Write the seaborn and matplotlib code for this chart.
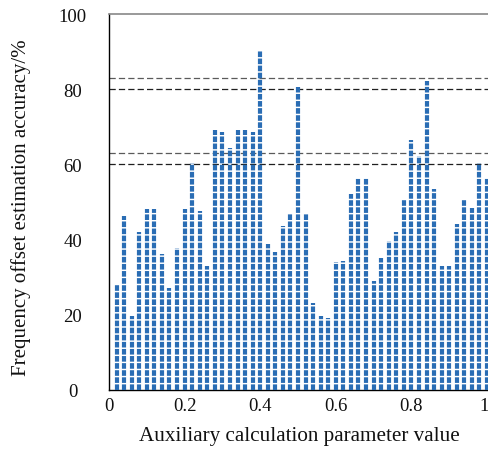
import matplotlib
matplotlib.use("Agg")
import matplotlib.pyplot as plt
import matplotlib.transforms as mtransforms
import numpy as np
import pandas as pd
import seaborn as sns

# Auxiliary parameter values (0.02 step) and the resulting estimation accuracy (%)
param_values = [0.02, 0.04, 0.06, 0.08, 0.10, 0.12, 0.14, 0.16, 0.18, 0.20,
                0.22, 0.24, 0.26, 0.28, 0.30, 0.32, 0.34, 0.36, 0.38, 0.40,
                0.42, 0.44, 0.46, 0.48, 0.50, 0.52, 0.54, 0.56, 0.58, 0.60,
                0.62, 0.64, 0.66, 0.68, 0.70, 0.72, 0.74, 0.76, 0.78, 0.80,
                0.82, 0.84, 0.86, 0.88, 0.90, 0.92, 0.94, 0.96, 0.98, 1.00]
accuracy = [28.2, 46.2, 19.8, 41.9, 48.1, 48.1, 36.1, 27.1, 37.8, 48.1,
            60.3, 47.6, 32.9, 69.2, 68.5, 64.3, 69.2, 69.2, 68.5, 90.2,
            38.7, 36.6, 43.7, 47.1, 80.5, 47.1, 23.1, 19.8, 19.2, 34.0,
            34.2, 52.0, 56.3, 56.3, 29.1, 35.2, 39.7, 42.1, 50.4, 66.5,
            62.3, 82.3, 53.5, 33.1, 33.1, 44.1, 50.4, 48.3, 60.4, 56.3]

# Reference accuracy levels
ref_levels_dark = [60, 80]
ref_levels_light = [63, 83]

x_ticks = [0, 0.2, 0.4, 0.6, 0.8, 1.0]
x_tick_labels = ["0", "0.2", "0.4", "0.6", "0.8", "1"]
y_ticks = [0, 20, 40, 60, 80, 100]
y_tick_labels = ["0", "20", "40", "60", "80", "100"]

df = pd.DataFrame({"param": param_values, "accuracy": accuracy})

sns.set_theme(style="white")
plt.rcParams["font.family"] = ["Liberation Serif", "DejaVu Serif"]

W, H = 489, 452
fig = plt.figure(figsize=(W / 100, H / 100), dpi=100)
ax = fig.add_axes([109 / W, (H - 391) / H, (W - 109) / W, (391 - 15) / H])

bar_color = "#2a6db4"
ax.vlines(df["param"], 0, df["accuracy"], colors=bar_color, linewidth=3.0,
          linestyles=[(0, (1.35, 0.35))], zorder=3)

for lv in ref_levels_dark:
    ax.axhline(lv, color="#1f1f1f", linewidth=0.9, linestyle=(0, (5, 2.5)), zorder=2)
for lv in ref_levels_light:
    ax.axhline(lv, color="#5a5a5a", linewidth=0.9, linestyle=(0, (5, 2.5)), zorder=2)

ax.set_xlim(0, 380 / 378)
ax.set_ylim(0, 100)

ax.set_xticks(x_ticks)
ax.set_xticklabels(x_tick_labels)
ax.set_yticks(y_ticks)
ax.set_yticklabels(y_tick_labels)

ax.tick_params(axis="both", direction="in", length=6, width=0.9, color="#777777",
               labelsize=13.5, labelcolor="#111111")
ax.tick_params(axis="y", pad=26)
ax.tick_params(axis="x", pad=5)
for lab in ax.get_yticklabels():
    lab.set_horizontalalignment("center")
# keep the last x tick label inside the canvas
last = ax.get_xticklabels()[-1]
last.set_transform(last.get_transform() +
                   mtransforms.ScaledTranslation(-3 / 100, 0, fig.dpi_scale_trans))

for side in ["left", "bottom"]:
    ax.spines[side].set_color("#000000")
    ax.spines[side].set_linewidth(1.0)
ax.spines["top"].set_color("#888888")
ax.spines["top"].set_linewidth(1.2)
ax.spines["right"].set_visible(False)

ax.set_xlabel("Auxiliary calculation parameter value", fontsize=15.2, color="#111111", labelpad=9)
ax.set_ylabel("Frequency offset estimation accuracy/%", fontsize=15, color="#111111")
ax.yaxis.set_label_coords((31 - 109) / 380, (391 - 208) / 376)

fig.savefig("out.png", dpi=100)
